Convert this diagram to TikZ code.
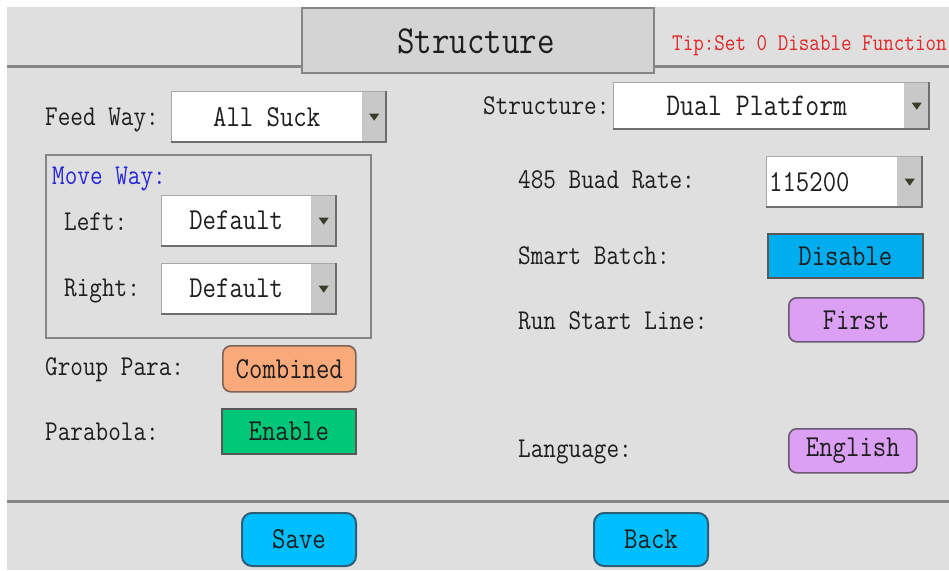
\documentclass[tikz,border=0pt]{standalone}
\usepackage{graphicx}
\usetikzlibrary{calc}
\definecolor{bgc}{HTML}{DFDFDF}
\definecolor{titlec}{HTML}{D4D4D4}
\definecolor{linec}{HTML}{868686}
\definecolor{txtc}{HTML}{1E1E1E}
\definecolor{tipc}{HTML}{E02828}
\definecolor{movec}{HTML}{2626D8}
\definecolor{arrowbg}{HTML}{C8C8C8}
\definecolor{tric}{HTML}{3C3C2A}
\definecolor{shadc}{HTML}{6E6E6E}
\definecolor{orangec}{HTML}{F9A97A}
\definecolor{orangeb}{HTML}{7A6458}
\definecolor{greenc}{HTML}{00C878}
\definecolor{bluec}{HTML}{00AEEF}
\definecolor{violetc}{HTML}{DBA0F4}
\definecolor{violetb}{HTML}{6A5870}
\definecolor{skyc}{HTML}{00BFFF}
\definecolor{skyb}{HTML}{2E5E78}
\newcommand\tx[2]{\scalebox{1}[1.17]{\fontsize{#1}{#1}\selectfont #2}}
\tikzset{
  lbl/.style={anchor=west, inner sep=0pt, text=txtc, font=\ttfamily},
  ctext/.style={font=\ttfamily, text=txtc, inner sep=0pt},
  ddwhite/.style={fill=white, draw=none, inner sep=0pt, anchor=north west},
  ddarrow/.style={fill=arrowbg, draw=none, inner sep=0pt, anchor=north west},
  btnbase/.style={inner sep=0pt, anchor=north west, line width=1.6pt, font=\ttfamily, text=txtc},
  roundbtn/.style={btnbase, rounded corners=8pt},
  squarebtn/.style={btnbase, draw=shadc!80!black},
  bigbtn/.style={btnbase, fill=skyc, draw=skyb, line width=2pt, rounded corners=10pt, minimum width=114pt, minimum height=53pt},
}
\begin{document}
\begin{tikzpicture}[x=1pt,y=-1pt]
\useasboundingbox (0,0) rectangle (949,570);
\fill[white] (0,0) rectangle (949,570);
\fill[bgc] (7,7) rectangle (949,570);
% header
\coordinate (hl1) at (7,66);
\coordinate (hl2) at (301,66);
\coordinate (hl3) at (653,66);
\coordinate (hl4) at (949,66);
\draw[linec, line width=3pt] (hl1) -- (hl2) (hl3) -- (hl4);
\node[fill=titlec, draw=linec, line width=2pt, minimum width=352pt, minimum height=65pt, inner sep=0pt, anchor=north west] (title) at (301,7) {};
\node[ctext] (titletxt) at (476,41) {\tx{34}{Structure}};
\node[lbl, text=tipc] (tip) at (672,46) {\tx{20.5}{Tip:Set 0 Disable Function}};
% bottom line
\coordinate (bl1) at (7,501);
\coordinate (bl2) at (949,501);
\draw[linec, line width=3pt] (bl1) -- (bl2);

% ---------- dropdown helper ----------
\newcommand\dropdown[6]{% name, x1, y1, x2, y2, arrow x
  \node[ddwhite, minimum width=#6pt-#2pt, minimum height=#5pt-#3pt] (#1) at (#2,#3) {};
  \node[ddarrow, minimum width=#4pt-#6pt, minimum height=#5pt-#3pt] (#1arr) at (#6,#3) {};
  \draw[shadc!60, line width=0.8pt] (#1.south west) -- (#1.north west) -- (#1arr.north east);
  \draw[shadc, line width=2pt] (#1.south west) -- (#1arr.south east) -- (#1arr.north east);
  \fill[tric] ($(#1arr.center)+(-5,-3)$) -- ++(10,0) -- ++(-5,7) -- cycle;
}
% Feed way
\node[lbl] (feedlbl) at (45,120) {\tx{24.5}{Feed Way:}};
\dropdown{feed}{171}{91}{386}{142}{362}
\node[ctext] (feedtxt) at (feed.center) {\tx{26}{All Suck}};
% Move way group
\node[draw=linec, line width=1.6pt, minimum width=325pt, minimum height=183pt, inner sep=0pt, anchor=north west] (movebox) at (45,154) {};
\node[lbl, text=movec] (movelbl) at (52,179) {\tx{24.5}{Move Way:}};
\node[lbl] (leftlbl) at (64,222) {\tx{24.5}{Left:}};
\dropdown{leftdd}{161}{195}{336}{246}{311}
\node[ctext] (lefttxt) at (leftdd.center) {\tx{26}{Default}};
\node[lbl] (rightlbl) at (64,291) {\tx{24.5}{Right:}};
\dropdown{rightdd}{161}{263}{336}{314}{311}
\node[ctext] (righttxt) at (rightdd.center) {\tx{26}{Default}};
% Group Para / Parabola
\node[lbl] (grplbl) at (45,370) {\tx{24.5}{Group Para:}};
\node[roundbtn, fill=orangec, draw=orangeb, minimum width=133pt, minimum height=46pt] (combined) at (222,345) {};
\node[ctext] (combtxt) at (combined.center) {\tx{26}{Combined}};
\node[lbl] (parlbl) at (45,432) {\tx{24.5}{Parabola:}};
\node[squarebtn, fill=greenc, minimum width=134pt, minimum height=45pt] (enable) at (221,408) {};
\node[ctext] (enatxt) at (enable.center) {\tx{26}{Enable}};
% Right column
\node[lbl] (structlbl) at (483,106) {\tx{24.5}{Structure:}};
\dropdown{structdd}{613}{82}{929}{129}{904}
\node[ctext] (structtxt) at ($(structdd.center)+(-2,0)$) {\tx{27}{Dual Platform}};
\node[lbl] (baudlbl) at (518,180) {\tx{24.5}{485 Buad Rate:}};
\dropdown{baud}{766}{156}{922}{207}{897}
\node[lbl] (baudtxt) at (769,182) {\tx{26}{115200}};
\node[lbl] (smartlbl) at (518,256) {\tx{24.5}{Smart Batch:}};
\node[squarebtn, fill=bluec, minimum width=155pt, minimum height=44pt] (disable) at (767,233) {};
\node[ctext] (distxt) at (disable.center) {\tx{26}{Disable}};
\node[lbl] (runlbl) at (518,321) {\tx{24.5}{Run Start Line:}};
\node[roundbtn, fill=violetc, draw=violetb, minimum width=135pt, minimum height=44pt] (first) at (788,297) {};
\node[ctext] (firsttxt) at (first.center) {\tx{26}{First}};
\node[lbl] (langlbl) at (518,452) {\tx{24.5}{Language:}};
\node[roundbtn, fill=violetc, draw=violetb, minimum width=128pt, minimum height=44pt] (english) at (788,428) {};
\node[ctext] (engtxt) at (english.center) {\tx{26}{English}};
% Bottom buttons
\node[bigbtn] (save) at (241,512) {};
\node[ctext] (savetxt) at (save.center) {\tx{26}{Save}};
\node[bigbtn] (back) at (593,512) {};
\node[ctext] (backtxt) at (back.center) {\tx{26}{Back}};
\end{tikzpicture}
\end{document}
